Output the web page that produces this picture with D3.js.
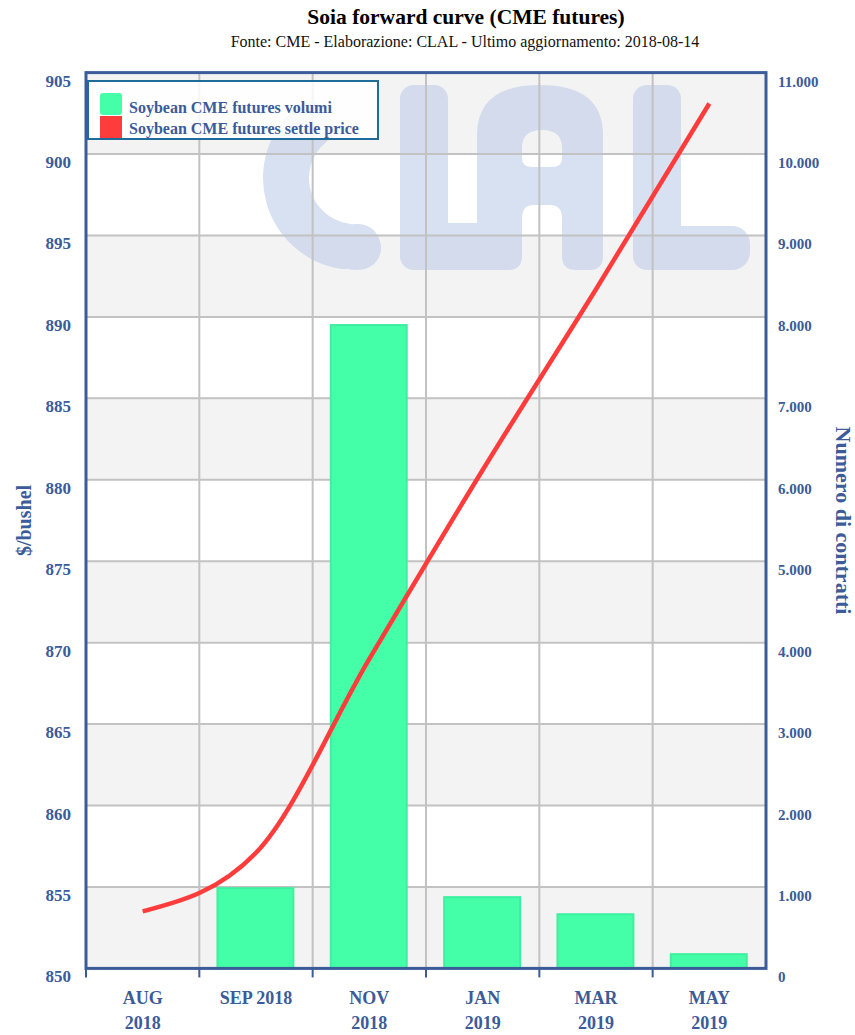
<!DOCTYPE html>
<html>
<head>
<meta charset="utf-8">
<script src="https://cdn.jsdelivr.net/npm/d3@7/dist/d3.min.js"></script>
<style>
  html, body { margin: 0; padding: 0; background: #ffffff; }
  svg { display: block; }
  text { font-family: "Liberation Serif", "Times New Roman", serif; }
</style>
</head>
<body>
<svg id="chart" width="855" height="1035"></svg>
<script>
// ---- data ----
const categories = ["AUG 2018", "SEP 2018", "NOV 2018", "JAN 2019", "MAR 2019", "MAY 2019"];
const categoryLabelLines = [["AUG", "2018"], ["SEP 2018"], ["NOV", "2018"], ["JAN", "2019"], ["MAR", "2019"], ["MAY", "2019"]];
const volumes = [0, 985, 7900, 875, 665, 175];
const settlePrices = [853.5, 857.1, 869.0, 880.6, 891.7, 903.1];
const priceTicks = [850, 855, 860, 865, 870, 875, 880, 885, 890, 895, 900, 905];
const volumeTicks = [0, 1000, 2000, 3000, 4000, 5000, 6000, 7000, 8000, 9000, 10000, 11000];
const seriesNames = ["Soybean CME futures volumi", "Soybean CME futures settle price"];
const titleText = "Soia forward curve (CME futures)";
const subtitleText = "Fonte: CME - Elaborazione: CLAL - Ultimo aggiornamento: 2018-08-14";
const leftAxisTitle = "$/bushel";
const rightAxisTitle = "Numero di contratti";

// ---- layout ----
const L = 86, R = 766, T = 72.6, B = 968.4;
const axisColor = "#3b5b9a";
const gridColor = "#c2c2c2";
const barColor = "#44ffa8";
const lineColor = "#ff3c3c";

const svg = d3.select("#chart");

const x = d3.scaleBand().domain(categories).range([L, R]).padding(0);
const yL = d3.scaleLinear().domain([850, 905]).range([B, T]);
const yR = d3.scaleLinear().domain([0, 11000]).range([B, T]);

// alternating bands
const bandStarts = priceTicks.slice(0, -1);
svg.append("g").selectAll("rect").data(bandStarts).join("rect")
  .attr("x", L).attr("width", R - L)
  .attr("y", d => yL(d + 5)).attr("height", d => yL(d) - yL(d + 5))
  .attr("fill", (d, i) => i % 2 === 0 ? "#f3f3f3" : "#ffffff");

// watermark "CLAL"
const wm = svg.append("g").attr("fill", "#b9c9e8").attr("opacity", 0.55);
// C
wm.append("path").attr("d", d3.arc().innerRadius(46).outerRadius(92).cornerRadius(22)
  .startAngle(-Math.PI * 0.05 - Math.PI).endAngle(-Math.PI * 0.12)())
  .attr("transform", "translate(355,178)");
wm.append("path").attr("d", d3.arc().innerRadius(46).outerRadius(92).cornerRadius(22)
  .startAngle(Math.PI * 0.88).endAngle(Math.PI * 1.1)())
  .attr("transform", "translate(355,178)");
// L
wm.append("rect").attr("x", 400).attr("y", 85).attr("width", 48).attr("height", 185).attr("rx", 14);
wm.append("rect").attr("x", 400).attr("y", 223).attr("width", 122).attr("height", 47).attr("rx", 16);
// A
wm.append("path").attr("d",
  "M477,270 L477,135 Q477,85 540,85 Q603,85 603,135 L603,256 Q603,270 589,270 L576,270 Q562,270 562,256 L562,218 Q562,205 550,205 L534,205 Q522,205 522,218 L522,256 Q522,270 508,270 Z " +
  "M522,158 Q522,167 532,167 L552,167 Q562,167 562,158 L562,148 Q562,130 542,130 Q522,130 522,148 Z")
  .attr("fill-rule", "evenodd");
// L
wm.append("rect").attr("x", 633).attr("y", 85).attr("width", 48).attr("height", 185).attr("rx", 14);
wm.append("rect").attr("x", 633).attr("y", 226).attr("width", 117).attr("height", 44).attr("rx", 18);

// grid
svg.append("g").selectAll("line").data(priceTicks.slice(1, -1)).join("line")
  .attr("x1", L).attr("x2", R).attr("y1", d => yL(d)).attr("y2", d => yL(d))
  .attr("stroke", gridColor).attr("stroke-width", 2);
svg.append("g").selectAll("line").data(categories.slice(1)).join("line")
  .attr("x1", d => x(d)).attr("x2", d => x(d)).attr("y1", T).attr("y2", B)
  .attr("stroke", gridColor).attr("stroke-width", 2);

// bars
const bw = x.bandwidth();
svg.append("g").selectAll("rect").data(volumes.map((v, i) => ({c: categories[i], v}))).join("rect")
  .attr("x", d => x(d.c) + bw * 0.16)
  .attr("width", bw * 0.67)
  .attr("y", d => yR(d.v))
  .attr("height", d => B - yR(d.v))
  .attr("fill", barColor)
  .attr("stroke", "#3cf0a0")
  .attr("stroke-width", d => d.v > 0 ? 2 : 0);

// line
const line = d3.line()
  .x((d, i) => x(categories[i]) + bw / 2)
  .y(d => yL(d))
  .curve(d3.curveMonotoneX);
svg.append("path").datum(settlePrices)
  .attr("d", line)
  .attr("fill", "none")
  .attr("stroke", lineColor)
  .attr("stroke-width", 4.5);

// frame
svg.append("rect").attr("x", L).attr("y", T).attr("width", R - L).attr("height", B - T)
  .attr("fill", "none").attr("stroke", axisColor).attr("stroke-width", 3);

// bottom ticks
svg.append("g").selectAll("line").data(categories).join("line")
  .attr("x1", d => x(d)).attr("x2", d => x(d)).attr("y1", B).attr("y2", B + 9)
  .attr("stroke", axisColor).attr("stroke-width", 2);

// left tick labels
svg.append("g").selectAll("text").data(priceTicks).join("text")
  .attr("x", 71).attr("y", d => yL(d) + 14)
  .attr("text-anchor", "end")
  .attr("font-size", 17).attr("font-weight", "bold").attr("fill", axisColor)
  .text(d => d);

// right tick labels
const fmtR = v => d3.format(",")(v).replace(/,/g, ".");
svg.append("g").selectAll("text").data(volumeTicks).join("text")
  .attr("x", 778).attr("y", d => yR(d) + 14)
  .attr("text-anchor", "start")
  .attr("font-size", 15).attr("font-weight", "bold").attr("fill", axisColor)
  .text(d => fmtR(d));

// x labels
const xl = svg.append("g");
categories.forEach((c, i) => {
  const t = xl.append("text")
    .attr("x", x(c) + bw / 2).attr("y", 1004)
    .attr("text-anchor", "middle")
    .attr("font-size", 18).attr("font-weight", "bold").attr("fill", axisColor);
  categoryLabelLines[i].forEach((ln, j) => {
    t.append("tspan").attr("x", x(c) + bw / 2).attr("dy", j === 0 ? 0 : 25).text(ln);
  });
});

// axis titles
svg.append("text")
  .attr("transform", `translate(31,${(T + B) / 2}) rotate(-90)`)
  .attr("text-anchor", "middle")
  .attr("font-size", 20).attr("font-weight", "bold").attr("fill", axisColor)
  .text(leftAxisTitle);
svg.append("text")
  .attr("transform", `translate(836,${(T + B) / 2}) rotate(90)`)
  .attr("text-anchor", "middle")
  .attr("font-size", 22).attr("font-weight", "bold").attr("fill", axisColor)
  .text(rightAxisTitle);

// title
svg.append("text").attr("x", 466).attr("y", 24)
  .attr("text-anchor", "middle").attr("font-size", 21.5).attr("font-weight", "bold").attr("fill", "#000")
  .text(titleText);
svg.append("text").attr("x", 465).attr("y", 47)
  .attr("text-anchor", "middle").attr("font-size", 16).attr("fill", "#111")
  .text(subtitleText);

// legend
const lg = svg.append("g");
lg.append("rect").attr("x", 88).attr("y", 81).attr("width", 290).attr("height", 58)
  .attr("fill", "#ffffff").attr("fill-opacity", 0.85)
  .attr("stroke", "#1f6b99").attr("stroke-width", 2);
const legendColors = [barColor, lineColor];
seriesNames.forEach((n, i) => {
  lg.append("rect").attr("x", 100).attr("y", 93 + i * 23).attr("width", 22).attr("height", 22)
    .attr("rx", i === 0 ? 3 : 0)
    .attr("fill", legendColors[i]);
  lg.append("text").attr("x", 129).attr("y", 113 + i * 21)
    .attr("font-size", 16).attr("font-weight", "bold").attr("fill", axisColor)
    .text(n);
});
</script>
</body>
</html>
